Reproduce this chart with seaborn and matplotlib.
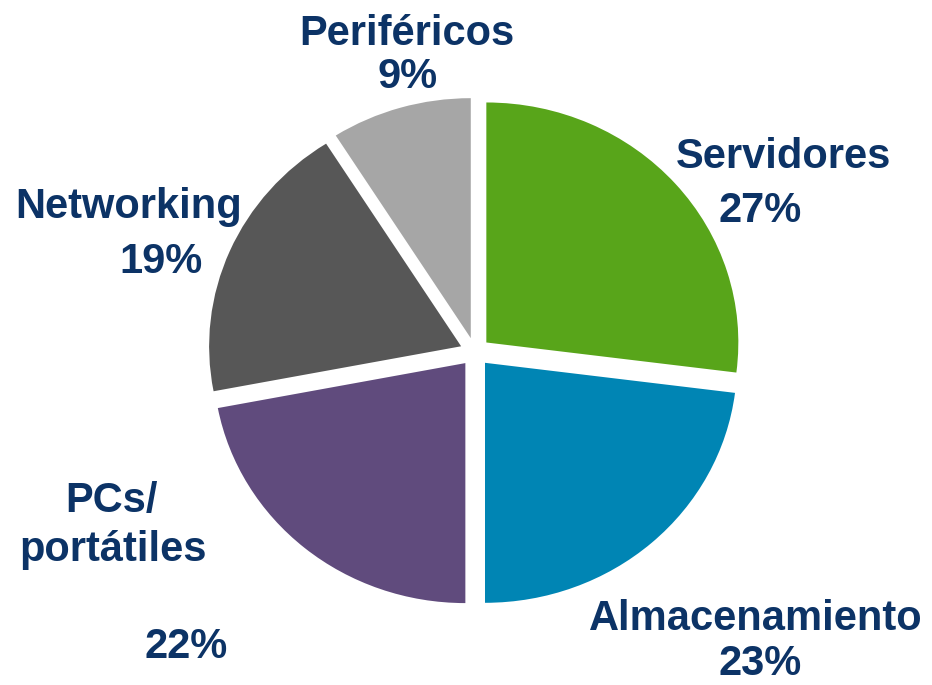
import matplotlib
matplotlib.use("Agg")
import matplotlib.pyplot as plt
import seaborn as sns

# ---- data ----
categories = ["Servidores", "Almacenamiento", "PCs/\nportátiles", "Networking", "Periféricos"]
shares = [27, 23, 22, 19, 9]
colors = ["#58A51A", "#0085B4", "#604B7D", "#575757", "#A6A6A6"]
label_color = "#0C3366"

sns.set_theme(style="white")
plt.rcParams["font.family"] = ["Liberation Sans", "DejaVu Sans"]

W, H = 932, 685
fig = plt.figure(figsize=(W / 100, H / 100), dpi=100)
ax = fig.add_axes([0, 0, 1, 1])

cx, cy = 475, 352          # pie centre in pixels
rx, ry = 252, 240          # pixel radius (slightly elliptic as in the reference)

ax.pie(shares, colors=colors, startangle=90, counterclock=False,
       explode=[0.06] * len(shares), radius=1.0,
       wedgeprops=dict(linewidth=0))
ax.set_aspect("auto")
ax.set_xlim(-cx / rx, (W - cx) / rx)
ax.set_ylim(-(H - cy) / ry, cy / ry)
ax.axis("off")

# ---- labels (pixel positions: centre x, baseline y) ----
label_lines = [
    ("Periféricos", 407, 45),
    ("9%", 408, 88),
    ("Servidores", 784, 168),
    ("27%", 760, 222),
    ("Networking", 129, 218),
    ("19%", 161, 273),
    ("PCs/", 111, 512),
    ("portátiles", 113, 561),
    ("22%", 186, 658),
    ("Almacenamiento", 756, 630),
    ("23%", 760, 675),
]
for txt, x, y in label_lines:
    fig.text(x / W, 1 - y / H, txt, ha="center", va="baseline",
             fontsize=30, fontweight="bold", color=label_color,
             family=["Liberation Sans", "DejaVu Sans"])

fig.savefig("out.png", dpi=100, facecolor="white")
